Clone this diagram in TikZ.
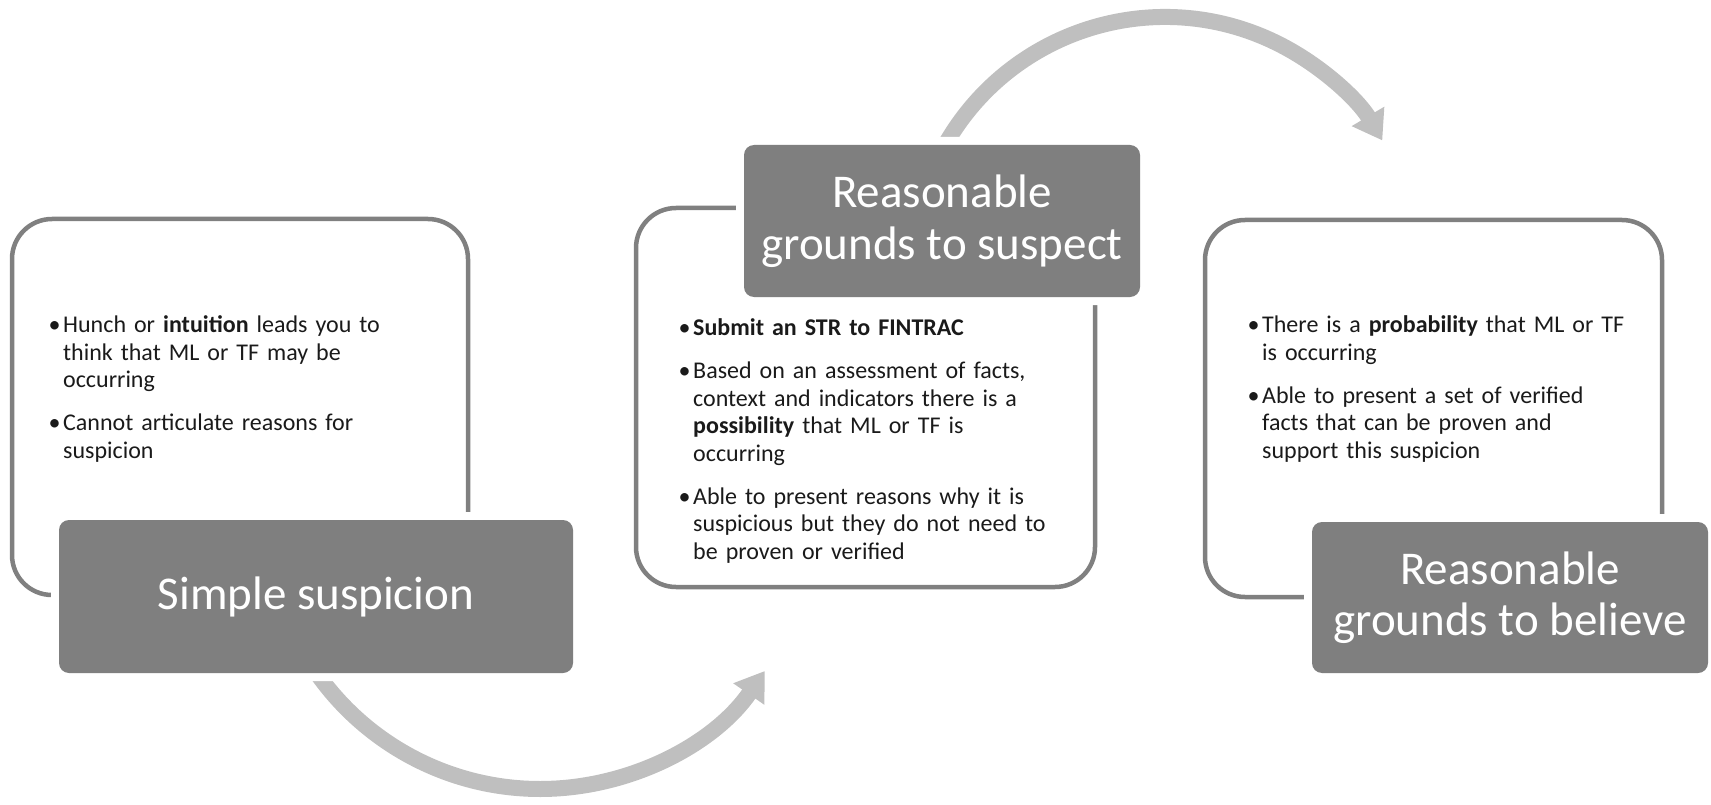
\documentclass[tikz,border=0pt]{standalone}
\usepackage{fontspec}
\setmainfont{Carlito}
\usetikzlibrary{arrows.meta}
\definecolor{boxgray}{HTML}{7F7F7F}
\definecolor{linegray}{HTML}{808080}
\definecolor{arrowgray}{HTML}{BFBFBF}
\definecolor{txt}{HTML}{1A1A1A}
\newcommand\bitem[1]{\hangindent=13pt\hangafter=1\noindent\makebox[13pt][l]{\hspace{-1.5pt}•}#1\par\vspace{15.5pt}}
\begin{document}
\begin{tikzpicture}[x=1pt,y=1pt,
  outline/.style={draw=linegray, line width=4.5pt, rounded corners=40pt, inner sep=0pt},
  darkbox/.style={fill=boxgray, rounded corners=10pt, inner sep=0pt,
    preaction={draw=white, line width=16pt},
    text=white, font=\fontsize{47}{51.5}\selectfont, align=center},
  body/.style={anchor=base west, inner sep=0pt, text width=400pt, align=left,
    text=txt, font=\fontsize{24}{27.5}\selectfont},
  flow/.style={draw=arrowgray, line width=16pt, -{Triangle[length=28pt,width=36pt]}}]
\useasboundingbox (0,0) rectangle (1711,-805);
% arrows
\coordinate (c1) at (540,-516);
\coordinate (c2) at (1165,-270);
\draw[flow] ([shift={(212:273)}]c1) arc[start angle=212, end angle=325.4, radius=273];
\draw[flow] ([shift={(152:253)}]c2) arc[start angle=152, end angle=30.8, radius=253];
% outlines
\node[outline, minimum width=456pt, minimum height=376pt] (o1) at (240,-407) {};
\node[outline, minimum width=459pt, minimum height=379pt] (o2) at (865.5,-397.5) {};
\node[outline, minimum width=457pt, minimum height=377pt] (o3) at (1433.5,-408.5) {};
% dark title boxes
\node[darkbox, minimum width=514pt, minimum height=153pt] (d1) at (316,-596.5) {Simple suspicion};
\node[darkbox, minimum width=396pt, minimum height=152pt] (d2) at (942,-221) {Reasonable\\grounds to suspect};
\node[darkbox, minimum width=396pt, minimum height=151pt] (d3) at (1510,-597.5) {Reasonable\\grounds to believe};
% body texts
\node[body] (b1) at (50,-332.7) {%
\bitem{Hunch or \textbf{intuition} leads you to\newline think that ML or TF may be\newline occurring}%
\bitem{Cannot articulate reasons for\newline suspicion}};
\node[body] (b2) at (680,-335.5) {%
\bitem{\textbf{Submit an STR to FINTRAC}}%
\bitem{Based on an assessment of facts,\newline context and indicators there is a\newline \textbf{possibility} that ML or TF is\newline occurring}%
\bitem{Able to present reasons why it is\newline suspicious but they do not need to\newline be proven or verified}};
\node[body] (b3) at (1249,-332.7) {%
\bitem{There is a \textbf{probability} that ML or TF\newline is occurring}%
\bitem{Able to present a set of verified\newline facts that can be proven and\newline support this suspicion}};
\end{tikzpicture}
\end{document}
